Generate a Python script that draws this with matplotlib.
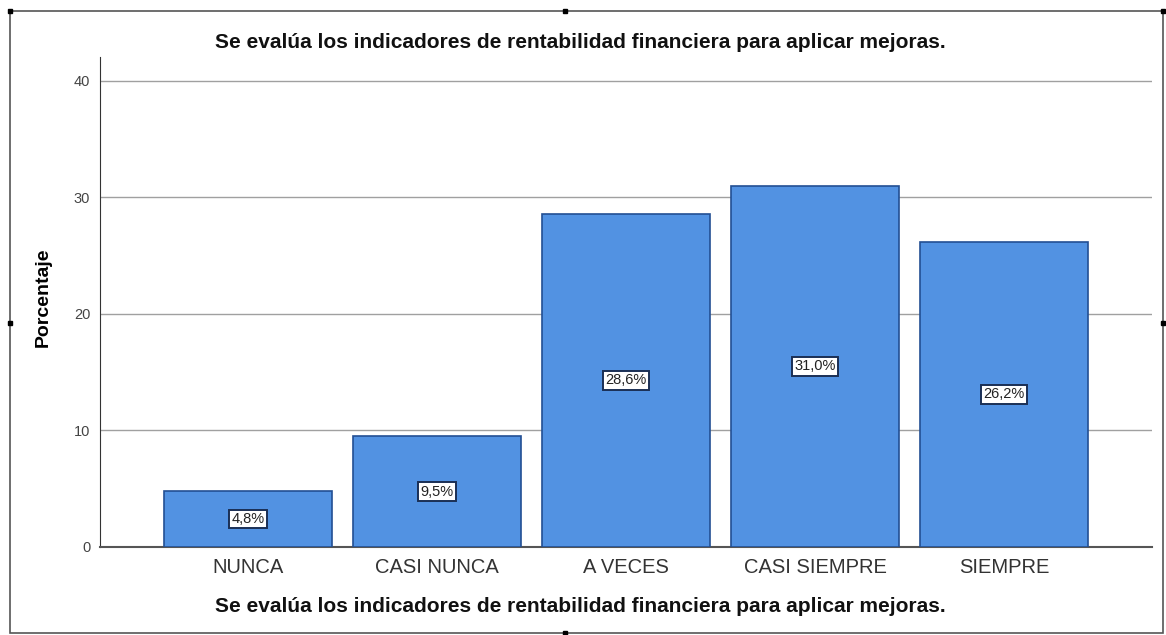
import matplotlib.pyplot as plt
from matplotlib.patches import Rectangle

plt.rcParams['font.family'] = ['Liberation Sans', 'DejaVu Sans']

# data
categories = ["NUNCA", "CASI NUNCA", "A VECES", "CASI SIEMPRE", "SIEMPRE"]
percentages = [4.8, 9.5, 28.6, 31.0, 26.2]
yticks = [0, 10, 20, 30, 40]
title = "Se evalúa los indicadores de rentabilidad financiera para aplicar mejoras."

fig = plt.figure(figsize=(11.66, 6.35), dpi=100)
ax = fig.add_axes([100 / 1166, 1 - 547 / 635, 1052 / 1166, 490 / 635])

x = list(range(len(categories)))
ax.bar(x, percentages, width=0.89, color="#5292E2", edgecolor="#234f93", linewidth=1.2, zorder=3)

for xi, v in zip(x, percentages):
    lbl = f"{v:.1f}%".replace(".", ",")
    ax.text(xi, v / 2, lbl, ha="center", va="center", fontsize=10.5, color="#222222", zorder=4,
            bbox=dict(boxstyle="square,pad=0.15", facecolor="white", edgecolor="#1a2f55", linewidth=1.4))

ax.set_xlim(-0.783, 4.783)
ax.set_ylim(0, 42.06)
ax.set_yticks(yticks)
ax.set_xticks(x)
ax.set_xticklabels(categories, fontsize=14.5, color="#333333")
ax.tick_params(axis="y", length=0, labelsize=10.5, labelcolor="#444444", pad=7)
ax.tick_params(axis="x", length=0, pad=8)
ax.yaxis.grid(True, color="#a0a0a0", linewidth=1.0, zorder=0)
ax.set_axisbelow(True)

for s in ["top", "right"]:
    ax.spines[s].set_visible(False)
ax.spines["left"].set_color("#333333")
ax.spines["bottom"].set_color("#555555")
ax.spines["bottom"].set_linewidth(1.5)

ax.set_ylabel("Porcentaje", fontsize=14, fontweight="bold")
ax.yaxis.set_label_coords(-48 / 1052, 0.51)
fig.text(0.498, 1 - 42 / 635, title, ha="center", va="center", fontsize=15, fontweight="bold", color="#111111")
fig.text(0.498, 1 - 607 / 635, title, ha="center", va="center", fontsize=15, fontweight="bold", color="#111111")

# outer frame with selection handles
fig.add_artist(Rectangle((10 / 1166, 1 - 633 / 635), 1153 / 1166, 622 / 635,
                         transform=fig.transFigure, fill=False, edgecolor="#555555", linewidth=1.2))
handles = [(10, 11), (565, 11), (1163, 11), (10, 323), (1163, 323), (565, 633)]
for hx, hy in handles:
    fig.add_artist(plt.Line2D([hx / 1166], [1 - hy / 635], marker="s", markersize=3,
                              color="black", transform=fig.transFigure))

fig.savefig("out.png", dpi=100)
